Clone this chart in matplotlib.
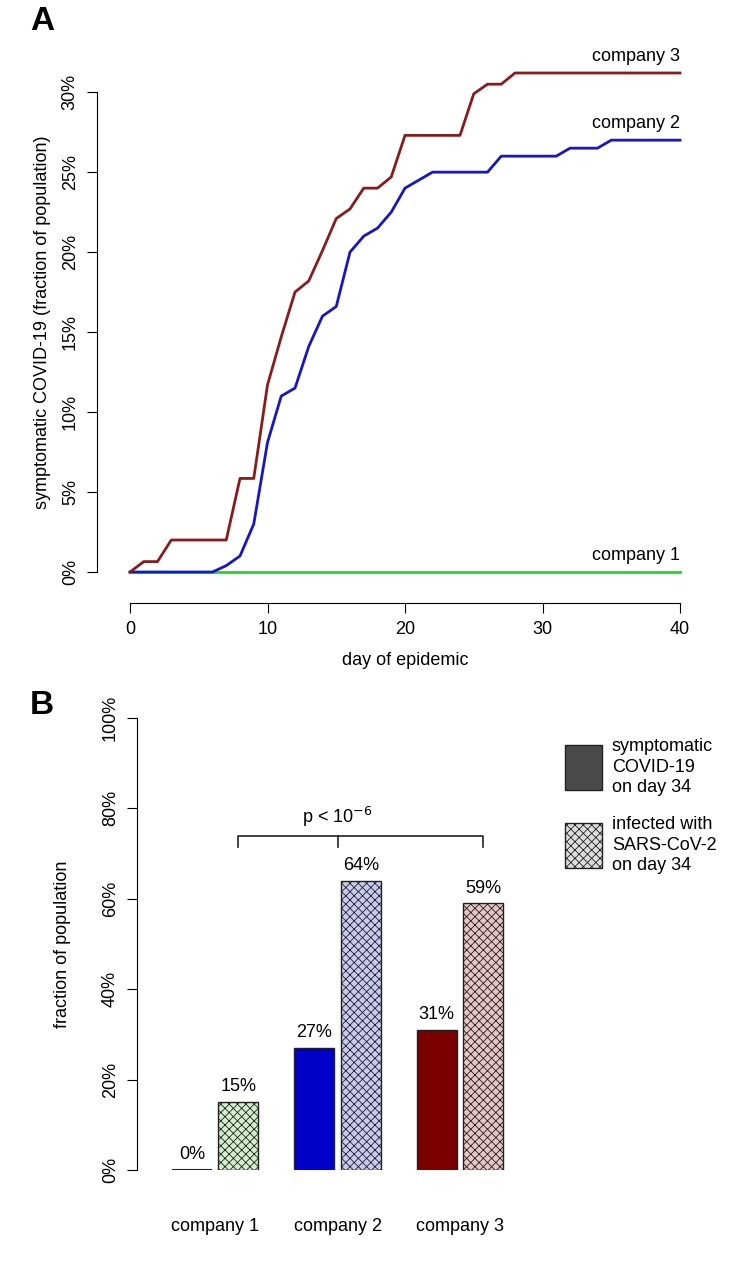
import matplotlib
matplotlib.use("Agg")
import matplotlib.pyplot as plt
import numpy as np

plt.rcParams['font.family'] = ['Liberation Sans', 'DejaVu Sans']

days = list(range(41))
c3 = [0, 0.65, 0.65, 2.0, 2.0, 2.0, 2.0, 2.0, 5.85, 5.85, 11.7, 14.7, 17.5, 18.2, 20.1, 22.1, 22.7,
      24.0, 24.0, 24.7, 27.3, 27.3, 27.3, 27.3, 27.3, 29.9, 30.5, 30.5] + [31.2] * 13
c2 = [0, 0, 0, 0, 0, 0, 0, 0.4, 1.0, 3.0, 8.1, 11.0, 11.5, 14.1, 16.0, 16.6, 20.0, 21.0, 21.5, 22.5,
      24.0, 24.5, 25.0, 25.0, 25.0, 25.0, 25.0, 26.0, 26.0, 26.0, 26.0, 26.0, 26.5, 26.5, 26.5] + [27.0] * 6
c1 = [0] * 41

companies = ['company 1', 'company 2', 'company 3']
symptomatic = [0, 27, 31]
infected = [15, 64, 59]
dark_cols = ['#333333', '#0000C8', '#7A0000']
light_cols = ['#D2EECB', '#C9C9F2', '#E8C4C4']

W, H = 735, 1273
fig = plt.figure(figsize=(W / 100, H / 100), dpi=100)
FS = 13

def ax_px(l, b, r, t):
    return fig.add_axes([l / W, 1 - b / H, (r - l) / W, (b - t) / H])

# Panel A
axA = ax_px(108, 592, 702, 53)
axA.plot(days, c1, color='#33CC33', lw=2)
axA.plot(days, c2, color='#1515CC', lw=2)
axA.plot(days, c3, color='#8B1A1A', lw=2)
axA.set_xlim(-1.6, 41.6)
axA.set_ylim(-1.25, 32.45)
for s in ['top', 'right']:
    axA.spines[s].set_visible(False)
axA.spines['left'].set_position(('outward', 8))
axA.spines['bottom'].set_position(('outward', 8))
axA.spines['left'].set_bounds(0, 30)
axA.spines['bottom'].set_bounds(0, 40)
axA.set_xticks([0, 10, 20, 30, 40])
axA.set_yticks([0, 5, 10, 15, 20, 25, 30])
axA.set_yticklabels([f'{v}%' for v in [0, 5, 10, 15, 20, 25, 30]], rotation=90, va='center')
axA.tick_params(labelsize=FS, length=7, pad=6)
axA.set_xlabel('day of epidemic', fontsize=FS, labelpad=10)
axA.set_ylabel('symptomatic COVID-19 (fraction of population)', fontsize=FS, labelpad=8)
for y, t in [(31.2, 'company 3'), (27.0, 'company 2'), (0, 'company 1')]:
    axA.text(40, y + 0.5, t, ha='right', va='bottom', fontsize=FS)
fig.text(30 / W, 1 - 22 / H, 'A', fontsize=24, fontweight='bold', va='center')

# Panel B
axB = ax_px(137, 1170, 540, 718)
grp = np.arange(3) * 3.06
plt.rcParams['hatch.color'] = '#333333'
plt.rcParams['hatch.linewidth'] = 0.6
for i in range(3):
    axB.bar(grp[i] - 0.58, symptomatic[i], width=1.0, color=dark_cols[i], edgecolor='#222222', lw=1)
    if symptomatic[i] == 0:
        axB.hlines(0, grp[i] - 1.08, grp[i] - 0.08, color='#222222', lw=1.5)
    axB.bar(grp[i] + 0.58, infected[i], width=1.0, color=light_cols[i], edgecolor='#222222', lw=1,
            hatch='xxxx')
    axB.text(grp[i] - 0.58, symptomatic[i] + 1.5, f'{symptomatic[i]}%', ha='center', va='bottom', fontsize=FS)
    axB.text(grp[i] + 0.58, infected[i] + 1.5, f'{infected[i]}%', ha='center', va='bottom', fontsize=FS)
    axB.text(grp[i], -12.5, companies[i], ha='center', va='center', fontsize=FS)
axB.set_xlim(-1.955, 8.12)
axB.set_ylim(0, 100)
for s in ['top', 'right', 'bottom']:
    axB.spines[s].set_visible(False)
axB.set_xticks([])
axB.set_yticks([0, 20, 40, 60, 80, 100])
axB.set_yticklabels([f'{v}%' for v in [0, 20, 40, 60, 80, 100]], rotation=90, va='center')
axB.tick_params(labelsize=FS, length=7, pad=6)
axB.set_ylabel('fraction of population', fontsize=FS, labelpad=22)
bx0, bx1 = grp[0] + 0.58, grp[2] + 0.58
axB.plot([bx0, bx0, bx1, bx1], [71.5, 74, 74, 71.5], color='#222222', lw=1.2, clip_on=False)
axB.plot([grp[1]] * 2, [74, 71.5], color='#222222', lw=1.2)
axB.text(grp[1], 75.5, r'p < 10$^{-6}$', ha='center', va='bottom', fontsize=FS)

# legend
lax = ax_px(0, H, W, 0)
lax.set_xlim(0, W); lax.set_ylim(H, 0); lax.axis('off')
lax.add_patch(plt.Rectangle((565, 745), 37, 45, facecolor='#4A4A4A', edgecolor='#222222', lw=1))
lax.add_patch(plt.Rectangle((565, 823), 37, 45, facecolor='#DDDDDD', edgecolor='#222222', lw=1, hatch='xxxx'))
lax.text(612, 767, 'symptomatic\nCOVID-19\non day 34', va='center', fontsize=FS, linespacing=1.3)
lax.text(612, 845, 'infected with\nSARS-CoV-2\non day 34', va='center', fontsize=FS, linespacing=1.3)
fig.text(30 / W, 1 - 705 / H, 'B', fontsize=24, fontweight='bold', va='center')

fig.savefig('out.png', dpi=100)
